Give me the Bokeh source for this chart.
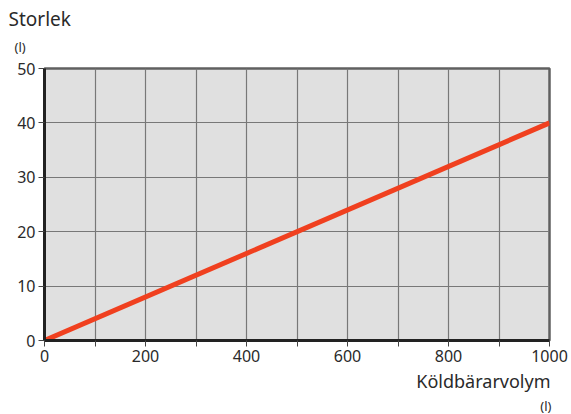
from bokeh.plotting import figure
from bokeh.models import FixedTicker, Range1d, Title
from bokeh.embed import file_html
from bokeh.resources import INLINE

# data
volume = [0, 1000]          # Köldbärarvolym (l)
size = [0, 40]              # Storlek (l)
x_ticks = list(range(0, 1001, 100))
x_labels = {t: (str(t) if t % 200 == 0 else "") for t in x_ticks}
y_ticks = list(range(0, 51, 10))

FONT = "Noto Sans"
TXT = "#2a2a2a"

p = figure(width=571, height=414, output_backend="svg", toolbar_location=None,
           x_range=Range1d(0, 1000), y_range=Range1d(0, 50),
           min_border_left=44, min_border_right=22, min_border_top=68, min_border_bottom=74)
p.background_fill_color = "#e0e0e0"
p.border_fill_color = "white"
p.outline_line_color = "#606060"
p.outline_line_width = 2.5

p.line(volume, size, line_color="#f0401f", line_width=5)

for ax in (p.xaxis[0], p.yaxis[0]):
    ax.axis_line_color = "#222222"
    ax.axis_line_width = 3
    ax.major_tick_line_color = "#444444"
    ax.major_tick_line_width = 1
    ax.major_tick_in = 0
    ax.major_tick_out = 6
    ax.minor_tick_line_color = None
    ax.major_label_text_font = FONT
    ax.major_label_text_font_size = "16px"
    ax.major_label_text_color = TXT

p.xaxis.ticker = FixedTicker(ticks=x_ticks)
p.xaxis.major_label_overrides = x_labels
p.xaxis.major_label_standoff = 3
p.yaxis.ticker = FixedTicker(ticks=y_ticks)
p.yaxis.major_label_standoff = 3

p.xgrid.ticker = FixedTicker(ticks=x_ticks)
p.ygrid.ticker = FixedTicker(ticks=y_ticks)
for g in (p.xgrid[0], p.ygrid[0]):
    g.grid_line_color = "#787878"
    g.grid_line_width = 1.2

def title(text, side, size, align, offset, standoff):
    p.add_layout(Title(text=text, align=align, offset=offset, standoff=standoff,
                       text_font=FONT, text_font_size=size, text_color=TXT,
                       text_font_style="normal"), side)

title("(l)", "above", "13px", "left", -30, 25)
title("Storlek", "above", "19px", "left", -36, -17)
title("Köldbärarvolym", "below", "18px", "right", -1, 4)
title("(l)", "below", "13px", "right", -2, 0)

open("out.html", "w").write(file_html(p, INLINE))
